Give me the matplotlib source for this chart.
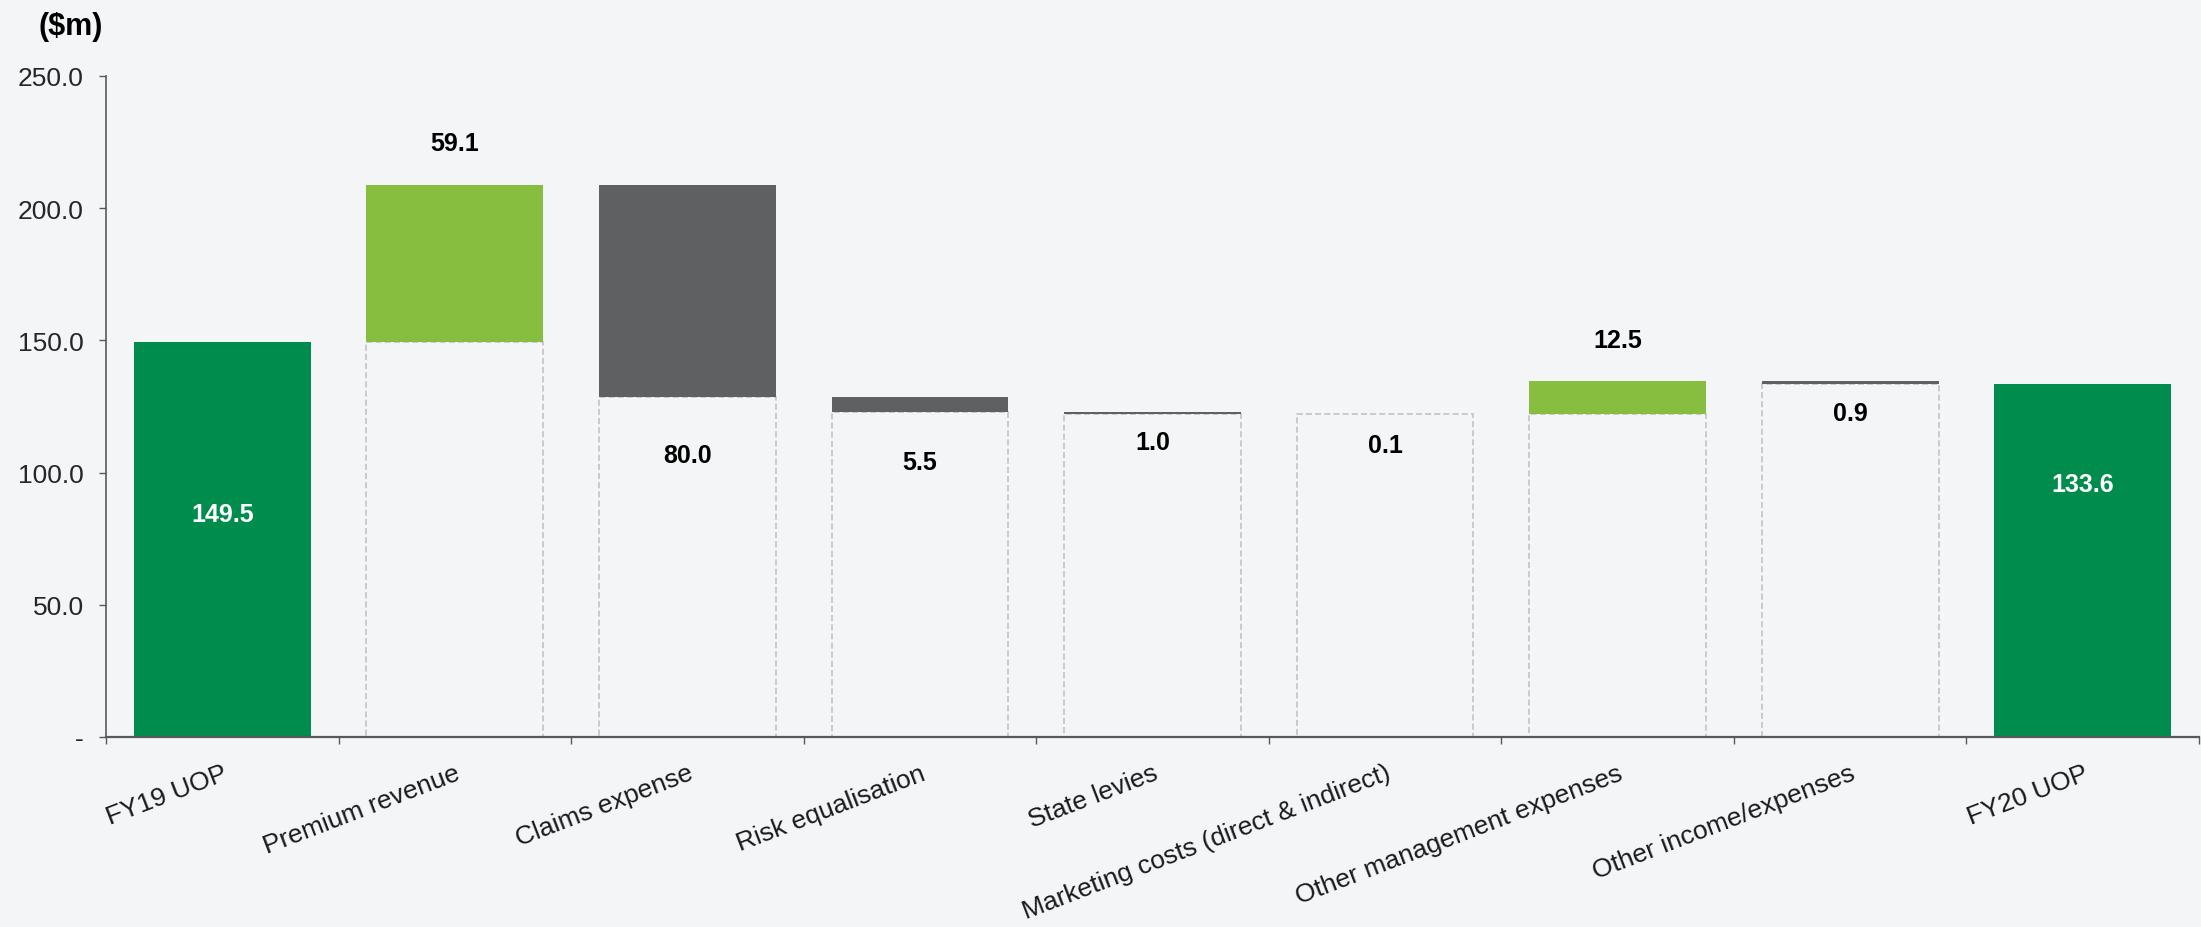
import matplotlib
matplotlib.use("Agg")
import matplotlib.pyplot as plt
from matplotlib.ticker import FixedLocator

# --- data ---
categories = ["FY19 UOP", "Premium revenue", "Claims expense", "Risk equalisation",
              "State levies", "Marketing costs (direct & indirect)",
              "Other management expenses", "Other income/expenses", "FY20 UOP"]
start_total = 149.5
changes = [59.1, -80.0, -5.5, -1.0, -0.1, 12.5, -0.9]
end_total = 133.6
y_ticks = [0, 50, 100, 150, 200, 250]

# styling
BG = "#F4F5F7"
DARK_GREEN = "#008C4C"
LIGHT_GREEN = "#88BE40"
DARK_GREY = "#5F6062"
DASH_GREY = "#BFBFBF"
AXIS_GREY = "#595959"
BAR_W = 0.76
# vertical nudge of each value label (data units), as placed on the slide
label_nudge = [-65, 16, -22, -19, -10.5, -11.5, 15.5, -11, -38]

plt.rcParams["font.family"] = ["Liberation Sans", "DejaVu Sans"]

fig = plt.figure(figsize=(22.01, 9.28), dpi=100, facecolor=BG)
ax = fig.add_axes([106 / 2201, 1 - 738 / 928, (2199 - 106) / 2201, (738 - 77) / 928])
ax.set_facecolor(BG)

n = len(categories)
x = list(range(n))

# totals
ax.bar([0, n - 1], [start_total, end_total], width=BAR_W, color=DARK_GREEN, zorder=2)

# steps
level = start_total
step_info = []
for i, d in enumerate(changes, start=1):
    new = level + d
    low, high = min(level, new), max(level, new)
    # dashed outline for the invisible base
    ax.bar(i, low, width=BAR_W, fill=False, edgecolor=DASH_GREY, linewidth=1.1,
           linestyle=(0, (4, 2)), zorder=1)
    ax.bar(i, high - low, bottom=low, width=BAR_W,
           color=LIGHT_GREEN if d > 0 else DARK_GREY, zorder=2)
    step_info.append((i, d, low, high))
    level = new

# labels
ax.text(0, start_total + label_nudge[0], f"{start_total:.1f}", ha="center", va="center",
        color="white", fontsize=18, fontweight="bold", zorder=3)
ax.text(n - 1, end_total + label_nudge[n - 1], f"{end_total:.1f}", ha="center", va="center",
        color="white", fontsize=18, fontweight="bold", zorder=3)
for i, d, low, high in step_info:
    anchor = high if d > 0 else low
    ax.text(i, anchor + label_nudge[i], f"{abs(d):.1f}", ha="center", va="center",
            color="black", fontsize=18, fontweight="bold", zorder=3)

# axes
ax.set_xlim(-0.5, n - 0.5)
ax.set_ylim(0, 250)
ax.set_yticks(y_ticks)
ax.set_yticklabels(["-" if v == 0 else f"{v:.1f}" for v in y_ticks], fontsize=19, color="#262626")
ax.tick_params(axis="y", direction="out", length=5, width=1, color=AXIS_GREY, pad=11)

ax.set_xticks(x)
ax.set_xticklabels(categories, rotation=21, ha="right", rotation_mode="anchor",
                   fontsize=19, color="#1A1A1A")
ax.tick_params(axis="x", which="major", length=0, pad=17)
ax.xaxis.set_minor_locator(FixedLocator([i - 0.5 for i in range(n + 1)]))
ax.tick_params(axis="x", which="minor", direction="out", length=5, width=1, color=AXIS_GREY)

for s in ["top", "right"]:
    ax.spines[s].set_visible(False)
ax.spines["left"].set_color(AXIS_GREY)
ax.spines["left"].set_linewidth(1.2)
ax.spines["bottom"].set_color(AXIS_GREY)
ax.spines["bottom"].set_linewidth(1.6)
ax.spines["bottom"].set_zorder(4)

fig.text(38 / 2201, 1 - 27 / 928, "($m)", fontsize=22, fontweight="bold",
         ha="left", va="center", color="black")

fig.savefig("out.png", dpi=100, facecolor=BG)
